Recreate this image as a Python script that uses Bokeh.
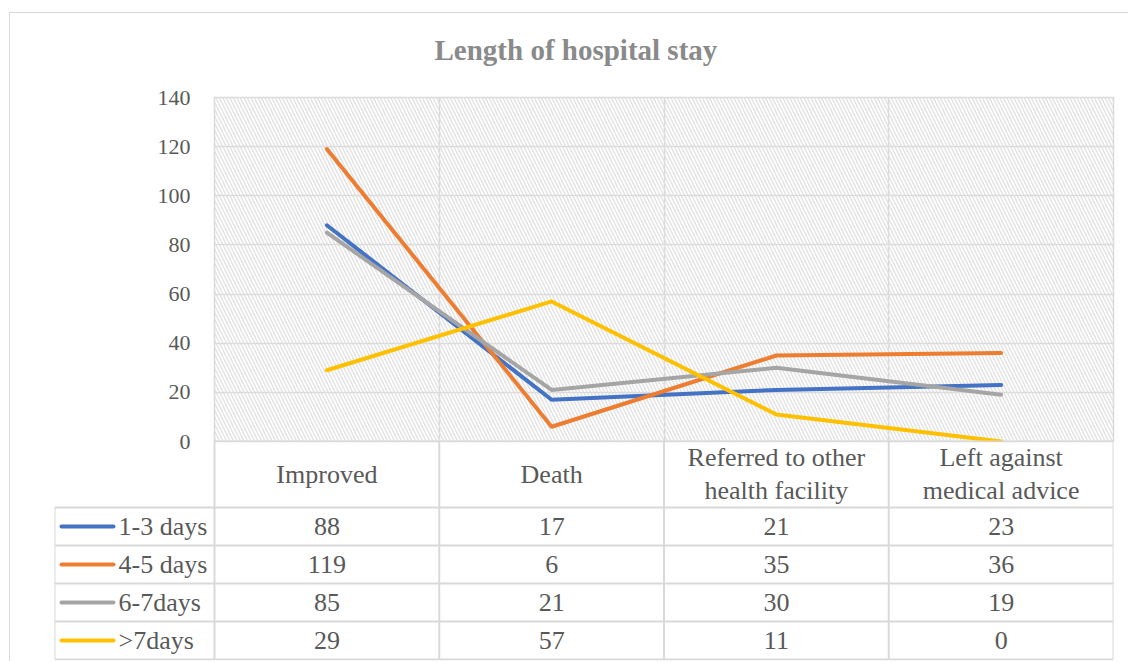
from bokeh.plotting import figure
from bokeh.models import Range1d, FixedTicker, Title
from bokeh.embed import file_html
from bokeh.resources import INLINE
from bokeh.core.properties import value

# ---------------- data ----------------
categories = ["Improved", "Death", "Referred to other\nhealth facility", "Left against\nmedical advice"]
series_names = ["1-3 days", "4-5 days", "6-7days", ">7days"]
days_1_3 = [88, 17, 21, 23]
days_4_5 = [119, 6, 35, 36]
days_6_7 = [85, 21, 30, 19]
days_over_7 = [29, 57, 11, 0]
colors = ["#4472C4", "#ED7D31", "#A5A5A5", "#FFC000"]
y_ticks = [0, 20, 40, 60, 80, 100, 120, 140]
title_text = "Length of hospital stay"

series_values = [days_1_3, days_4_5, days_6_7, days_over_7]

FONT = "Liberation Serif"
TXT = "#595959"
GRID = "#d9d9d9"
BORDER = "1px solid #d9d9d9"

n = len(categories)
xs = [i + 0.5 for i in range(n)]
px_per_cat = 899 / n

# ---------------- chart ----------------
p = figure(width=1119, height=442, x_range=Range1d(0, n), y_range=Range1d(0, 140),
           output_backend="svg", toolbar_location=None,
           min_border_left=204, min_border_right=16, min_border_top=84, min_border_bottom=14)
p.margin = (12, 0, 0, 9)
p.styles = {"border-top": BORDER, "border-left": BORDER}
# trailing blank line lifts the title away from the plot area
p.title = Title(text=title_text + "\n ", align="left", offset=220, standoff=0,
                text_font=FONT, text_font_size="29px", text_font_style="bold",
                text_color="#8a8a8a", text_line_height=1.0)
p.xaxis.visible = False
p.yaxis.ticker = FixedTicker(ticks=y_ticks)
p.yaxis.axis_line_color = None
p.yaxis.major_tick_line_color = None
p.yaxis.minor_tick_line_color = None
p.yaxis.major_label_standoff = 18
p.yaxis.major_label_text_font = FONT
p.yaxis.major_label_text_font_size = "22px"
p.yaxis.major_label_text_color = TXT
p.xgrid.ticker = FixedTicker(ticks=list(range(1, n)))
p.xgrid.grid_line_color = GRID
p.xgrid.grid_line_width = 1.5
p.ygrid.grid_line_color = GRID
p.ygrid.grid_line_width = 1.5
p.outline_line_color = GRID
p.outline_line_width = 1.5
p.background_fill_color = "white"
p.border_fill_color = "white"

p.quad(left=[0], right=[n], bottom=[0], top=[140], fill_alpha=0, line_color=None,
       hatch_pattern="left_diagonal_line", hatch_color="#e0e0e0", hatch_scale=7, hatch_weight=1.3)

for vals, c in zip(series_values, colors):
    p.line(xs, vals, line_color=c, line_width=4, line_cap="round", line_join="round")

# ---------------- data table ----------------
left_w = 160 / px_per_cat      # width of the legend column in category units
hdr_h = 67
row_h = 38
tbl_h = hdr_h + row_h * len(series_names)

t = figure(width=1119, height=221, x_range=Range1d(-left_w, n), y_range=Range1d(-tbl_h - 1, 0),
           output_backend="svg", toolbar_location=None,
           min_border_left=44, min_border_right=16, min_border_top=0, min_border_bottom=1)
t.margin = (-14, 0, 0, 9)
t.styles = {"border-left": BORDER}
t.axis.visible = False
t.grid.visible = False
t.outline_line_color = None
t.background_fill_color = None
t.border_fill_color = None

# grid lines
hx0, hx1, hy = [0], [n], [0]
for k in range(len(series_names) + 1):
    hx0.append(-left_w); hx1.append(n); hy.append(-hdr_h - k * row_h)
t.segment(x0=hx0, y0=hy, x1=hx1, y1=hy, line_color=GRID, line_width=2)
vx = list(range(n + 1))
t.segment(x0=vx, y0=[0] * len(vx), x1=vx, y1=[-tbl_h] * len(vx), line_color=GRID, line_width=2)
t.segment(x0=[-left_w], y0=[-hdr_h], x1=[-left_w], y1=[-tbl_h], line_color=GRID, line_width=2)

# header
t.text(x=xs, y=[-hdr_h / 2] * n, text=categories, text_font=value(FONT), text_font_size="26px",
       text_color=TXT, text_align="center", text_baseline="middle", text_line_height=1.15)

# rows
for r, (name, vals, c) in enumerate(zip(series_names, series_values, colors)):
    yc = -hdr_h - r * row_h - row_h / 2
    t.segment(x0=[-left_w + 7 / px_per_cat], y0=[yc], x1=[-left_w + 59 / px_per_cat], y1=[yc],
              line_color=c, line_width=4, line_cap="round")
    t.text(x=[-left_w + 64 / px_per_cat], y=[yc], text=[name], text_font=value(FONT),
           text_font_size="26px", text_color=TXT, text_align="left", text_baseline="middle")
    t.text(x=xs, y=[yc] * n, text=[str(v) for v in vals], text_font=value(FONT),
           text_font_size="26px", text_color=TXT, text_align="center", text_baseline="middle")

open("out.html", "w").write(file_html([p, t], INLINE))
